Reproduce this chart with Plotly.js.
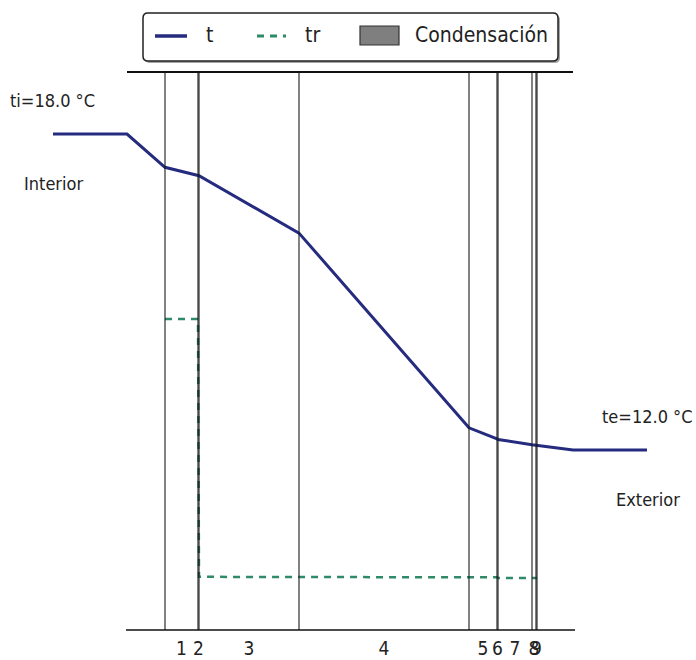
<!DOCTYPE html>
<html>
<head>
<meta charset="utf-8">
<script src="https://cdn.plot.ly/plotly-3.0.1.min.js"></script>
<style>html,body{margin:0;padding:0;background:#fff;}#chart{width:696px;height:660px;}</style>
</head>
<body>
<div id="chart"></div>
<script>
// ---- data ----
const layerLabels = ['1','2','3','4','5','6','7','8','9'];
const thickness = [3.3, 0.1, 10.0, 17.0, 2.8, 0.1, 3.4, 0.4, 0.1]; // cm
const tX = [-11.2, -3.8, 0, 3.3, 3.4, 13.4, 30.4, 33.2, 33.3, 36.7, 37.1, 37.2, 40.8, 48.2];
const tVals = [18.0, 18.0, 17.37, 17.22, 17.21, 16.12, 12.42, 12.21, 12.20, 12.10, 12.09, 12.08, 12.0, 12.0];
const trX = [0, 3.3, 3.4, 13.4, 30.4, 33.2, 33.3, 36.7, 37.1, 37.2];
const trVals = [14.49, 14.49, 9.59, 9.59, 9.58, 9.58, 9.57, 9.57, 9.57, 9.57];
const ti = 18.0, te = 12.0;

// ---- derived ----
const bounds = [0];
thickness.forEach(t => bounds.push(+(bounds[bounds.length-1] + t).toFixed(3)));
const mids = thickness.map((t, i) => (bounds[i] + bounds[i+1]) / 2);

const W = 696, H = 660, MT = 72, MB = 30;
const PH = H - MT - MB;
const px = v => v / W;               // pixel x -> paper
const py = v => (H - MB - v) / PH;   // pixel y -> paper

const FONT = '"DejaVu Sans Condensed", "Liberation Sans Narrow", "DejaVu Sans", sans-serif';
const NAVY = '#252b7e';
const GREEN = '#2f8a68';

const traces = [
  {x: tX, y: tVals, type: 'scatter', mode: 'lines', name: 't',
   line: {color: NAVY, width: 3}, showlegend: false, hoverinfo: 'skip'},
  {x: trX, y: trVals, type: 'scatter', mode: 'lines', name: 'tr',
   line: {color: GREEN, width: 2.5, dash: '7px,6px'}, showlegend: false, hoverinfo: 'skip'}
];

const shapes = [];
// layer boundaries
bounds.forEach(b => shapes.push({type: 'line', xref: 'x', yref: 'paper', x0: b, x1: b, y0: 0, y1: 1,
  line: {color: '#1a1a1a', width: 1.1}}));
// top and bottom lines
shapes.push({type: 'line', xref: 'x', yref: 'paper', x0: -3.8, x1: 40.8, y0: 1, y1: 1, line: {color: '#111', width: 2}});
shapes.push({type: 'line', xref: 'x', yref: 'paper', x0: -3.9, x1: 41.0, y0: 0, y1: 0, line: {color: '#111', width: 1.5}});

// legend box (rounded, with shadow)
function rrect(x0, y0, x1, y1, r) {
  const rx = r / W, ry = r / PH;
  const X0 = px(x0), X1 = px(x1), Y0 = py(y0), Y1 = py(y1);
  return `M${X0+rx},${Y0} L${X1-rx},${Y0} Q${X1},${Y0} ${X1},${Y0-ry} L${X1},${Y1+ry} Q${X1},${Y1} ${X1-rx},${Y1} L${X0+rx},${Y1} Q${X0},${Y1} ${X0},${Y1+ry} L${X0},${Y0-ry} Q${X0},${Y0} ${X0+rx},${Y0} Z`;
}
shapes.push({type: 'path', xref: 'paper', yref: 'paper', path: rrect(145, 15, 560, 63, 5),
  fillcolor: 'rgba(0,0,0,0.35)', line: {width: 0}});
shapes.push({type: 'path', xref: 'paper', yref: 'paper', path: rrect(143, 13, 558, 61, 5),
  fillcolor: '#ffffff', line: {color: '#222', width: 1.5}});
shapes.push({type: 'line', xref: 'paper', yref: 'paper', x0: px(155), x1: px(187), y0: py(36), y1: py(36),
  line: {color: NAVY, width: 3.5}});
shapes.push({type: 'line', xref: 'paper', yref: 'paper', x0: px(257), x1: px(286), y0: py(36), y1: py(36),
  line: {color: GREEN, width: 3, dash: '7px,6px'}});
shapes.push({type: 'rect', xref: 'paper', yref: 'paper', x0: px(360), x1: px(399), y0: py(26), y1: py(45),
  fillcolor: '#7f7f7f', line: {color: '#333', width: 1.2}});

const textFont = {family: FONT, size: 18, color: '#222'};
const legendFont = {family: FONT, size: 21, color: '#222'};
const annotations = [
  {text: 't', x: px(209), y: py(35), xanchor: 'center', font: legendFont},
  {text: 'tr', x: px(312), y: py(35), xanchor: 'center', font: legendFont},
  {text: 'Condensación', x: px(413), y: py(35), xanchor: 'left', font: legendFont},
  {text: 'ti=' + ti.toFixed(1) + ' °C', x: px(52), y: py(100), xanchor: 'center'},
  {text: 'Interior', x: px(53), y: py(183), xanchor: 'center'},
  {text: 'te=' + te.toFixed(1) + ' °C', x: px(647), y: py(416), xanchor: 'center'},
  {text: 'Exterior', x: px(648), y: py(499), xanchor: 'center'}
].map(a => Object.assign({xref: 'paper', yref: 'paper', yanchor: 'middle', showarrow: false, font: textFont}, a));

const layout = {
  width: W, height: H,
  margin: {l: 0, r: 0, t: MT, b: MB, pad: 0},
  paper_bgcolor: '#fff', plot_bgcolor: '#fff',
  showlegend: false,
  xaxis: {range: [-16.5, 53.1], showgrid: false, zeroline: false, showline: false,
    tickmode: 'array', tickvals: mids, ticktext: layerLabels, ticks: '', ticklabelstandoff: 5,
    tickfont: {family: FONT, size: 19, color: '#222'}, tickangle: 0, fixedrange: true},
  yaxis: {range: [8.58, 19.18], visible: false, fixedrange: true},
  shapes: shapes,
  annotations: annotations
};

Plotly.newPlot('chart', traces, layout, {displayModeBar: false, staticPlot: true});
</script>
</body>
</html>
